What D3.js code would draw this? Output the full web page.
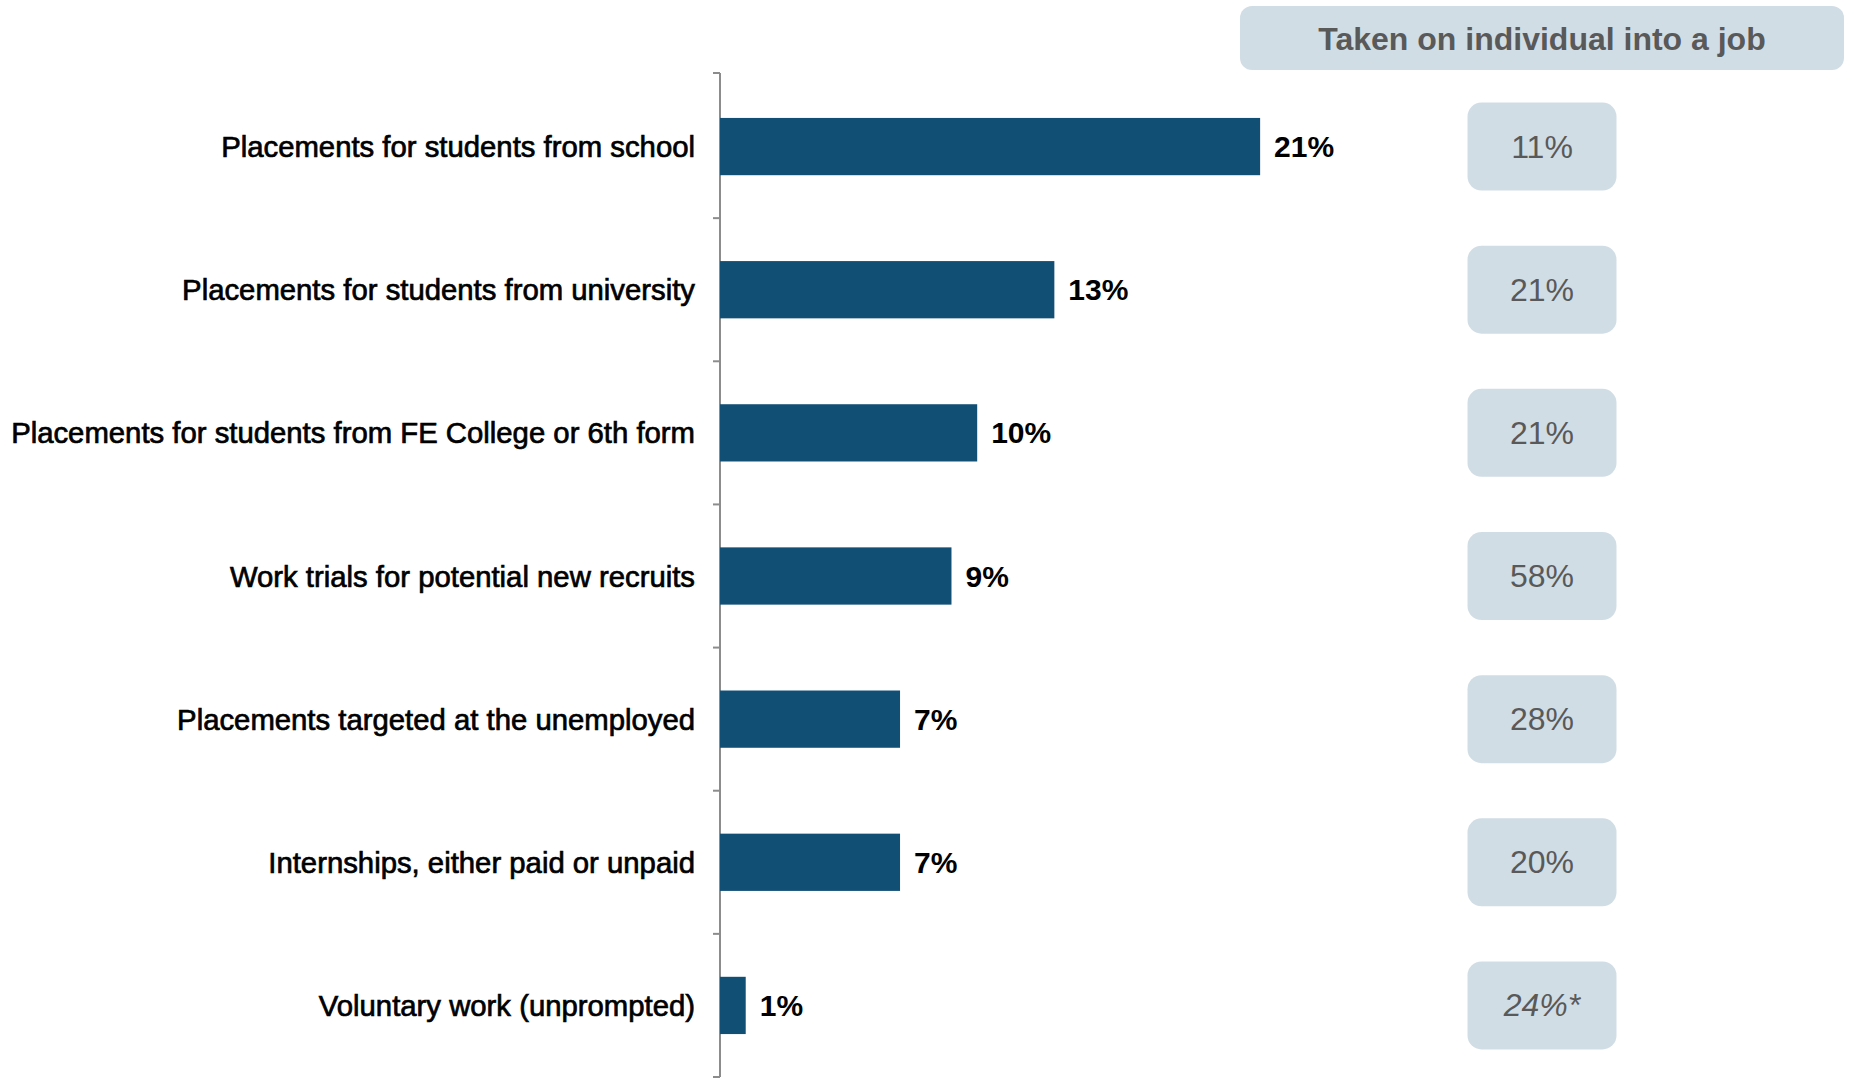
<!DOCTYPE html>
<html>
<head>
<meta charset="utf-8">
<script src="https://cdn.jsdelivr.net/npm/d3@7"></script>
<style>
  html, body { margin: 0; padding: 0; background: #ffffff; }
  svg { display: block; }
</style>
</head>
<body>
<svg id="chart" width="1856" height="1080"></svg>
<script>
// Types of work placement offered, share of employers
const categories = [
  "Placements for students from school",
  "Placements for students from university",
  "Placements for students from FE College or 6th form",
  "Work trials for potential new recruits",
  "Placements targeted at the unemployed",
  "Internships, either paid or unpaid",
  "Voluntary work (unprompted)"
];
const offeredPct = [21, 13, 10, 9, 7, 7, 1];

// Share of those placements that led to the individual being taken on
const takenOnPct = [11, 21, 21, 58, 28, 20, 24];
const takenOnNote = ["", "", "", "", "", "", "*"];
const sideHeader = "Taken on individual into a job";

const svg = d3.select("#chart");
const font = "'Liberation Sans', Arial, Helvetica, sans-serif";

const x = d3.scaleLinear().domain([0, 25]).range([720, 1363]);
const y = d3.scaleBand().domain(categories).range([75, 1077])
  .paddingInner(0.6).paddingOuter(0.3);

// Category axis with ticks between bands
const axisG = svg.append("g").attr("transform", `translate(${x(0)},0)`);
axisG.append("line")
  .attr("x1", 0).attr("x2", 0)
  .attr("y1", y.range()[0] - 2).attr("y2", y.range()[1])
  .attr("stroke", "#8c8c8c").attr("stroke-width", 2);
const tickYs = [y.range()[0] - 2];
categories.slice(1).forEach(c => tickYs.push(y(c) - y.step() * y.paddingInner() / 2));
tickYs.push(y.range()[1]);
axisG.selectAll("line.tick").data(tickYs).join("line")
  .attr("class", "tick")
  .attr("x1", -7).attr("x2", 0)
  .attr("y1", d => d).attr("y2", d => d)
  .attr("stroke", "#8c8c8c").attr("stroke-width", 2);

// Category labels
svg.append("g").selectAll("text").data(categories).join("text")
  .attr("x", x(0) - 25)
  .attr("y", d => y(d) + y.bandwidth() / 2)
  .attr("text-anchor", "end")
  .attr("dominant-baseline", "central")
  .attr("font-family", font)
  .attr("font-size", 29.3)
  .attr("fill", "#000")
  .attr("stroke", "#000").attr("stroke-width", 0.7)
  .text(d => d);

// Bars
const rows = categories.map((c, i) => ({ c, v: offeredPct[i], t: takenOnPct[i], n: takenOnNote[i] }));
svg.append("g").selectAll("rect").data(rows).join("rect")
  .attr("x", x(0))
  .attr("y", d => y(d.c))
  .attr("width", d => x(d.v) - x(0))
  .attr("height", y.bandwidth())
  .attr("fill", "#114f75");

// Value labels
svg.append("g").selectAll("text").data(rows).join("text")
  .attr("x", d => x(d.v) + 14)
  .attr("y", d => y(d.c) + y.bandwidth() / 2)
  .attr("dominant-baseline", "central")
  .attr("font-family", font)
  .attr("font-size", 30)
  .attr("font-weight", "bold")
  .attr("fill", "#000")
  .text(d => d.v + "%");

// Side column: header
const colX = 1542;
svg.append("rect")
  .attr("x", 1240).attr("y", 6)
  .attr("width", 604).attr("height", 64)
  .attr("rx", 12)
  .attr("fill", "#d1dde5");
svg.append("text")
  .attr("x", colX).attr("y", 39)
  .attr("text-anchor", "middle")
  .attr("dominant-baseline", "central")
  .attr("font-family", font)
  .attr("font-size", 32)
  .attr("font-weight", "bold")
  .attr("fill", "#595959")
  .text(sideHeader);

// Side column: value boxes
const boxW = 149, boxH = 88;
const boxes = svg.append("g").selectAll("g").data(rows).join("g")
  .attr("transform", d => `translate(${colX},${y(d.c) + y.bandwidth() / 2})`);
boxes.append("rect")
  .attr("x", -boxW / 2).attr("y", -boxH / 2)
  .attr("width", boxW).attr("height", boxH)
  .attr("rx", 14)
  .attr("fill", "#d1dde5");
boxes.append("text")
  .attr("text-anchor", "middle")
  .attr("dominant-baseline", "central")
  .attr("font-family", font)
  .attr("font-size", 32)
  .attr("font-style", d => d.n ? "italic" : "normal")
  .attr("fill", "#595959")
  .text(d => d.t + "%" + d.n);
</script>
</body>
</html>
